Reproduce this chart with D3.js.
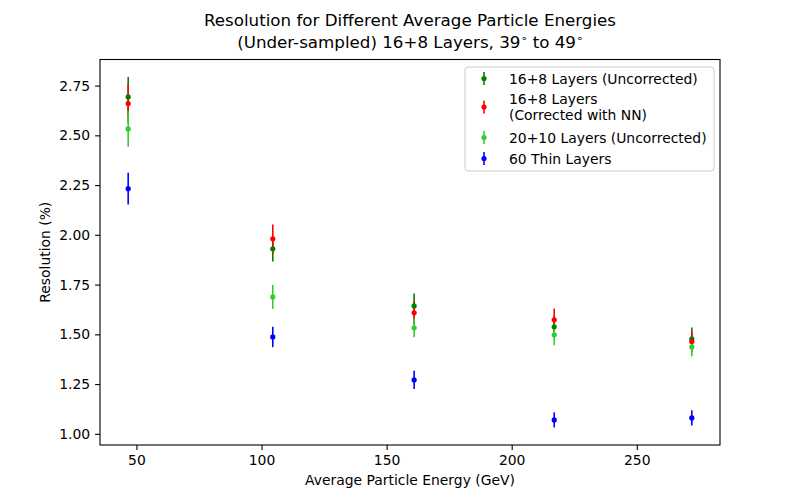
<!DOCTYPE html>
<html>
<head>
<meta charset="utf-8">
<script src="https://cdn.jsdelivr.net/npm/d3@7"></script>
<style>
  body { margin: 0; background: #fff; }
  text { font-family: 'DejaVu Sans', sans-serif; fill: #000; }
</style>
</head>
<body>
<div id="chart"></div>
<script>
'use strict';

const energies = [46.7, 104.5, 161.0, 217.0, 272.0];

const uncorrected16 = [2.693, 1.930, 1.643, 1.538, 1.477];
const uncorrected16Err = [0.100, 0.064, 0.062, 0.055, 0.057];

const corrected16 = [2.660, 1.980, 1.608, 1.573, 1.464];
const corrected16Err = [0.095, 0.072, 0.060, 0.057, 0.052];

const uncorrected20 = [2.532, 1.688, 1.533, 1.498, 1.437];
const uncorrected20Err = [0.090, 0.060, 0.047, 0.053, 0.047];

const thin60 = [2.232, 1.487, 1.271, 1.070, 1.080];
const thin60Err = [0.080, 0.051, 0.046, 0.038, 0.038];

const seriesNames = [
  ['16+8 Layers (Uncorrected)'],
  ['16+8 Layers', '(Corrected with NN)'],
  ['20+10 Layers (Uncorrected)'],
  ['60 Thin Layers'],
];
const seriesColors = ['green', 'red', 'limegreen', 'blue'];
const yTicks = [1.00, 1.25, 1.50, 1.75, 2.00, 2.25, 2.50, 2.75];
const xTicks = [50, 100, 150, 200, 250];

const series = [
  [uncorrected16, uncorrected16Err],
  [corrected16, corrected16Err],
  [uncorrected20, uncorrected20Err],
  [thin60, thin60Err],
].map(([vals, errs], i) => ({
  name: seriesNames[i],
  color: seriesColors[i],
  points: vals.map((v, j) => ({ x: energies[j], y: v, e: errs[j] })),
}));

const width = 800;
const height = 500;
const margin = { top: 59.5, right: 80, bottom: 55, left: 100 };

// matplotlib style 5% padding around the data
const pad = (lo, hi) => [lo - (hi - lo) * 0.05, hi + (hi - lo) * 0.05];
const allPts = series.flatMap((s) => s.points);
const xDomain = pad(d3.min(energies), d3.max(energies));
const yDomain = pad(d3.min(allPts, (p) => p.y - p.e), d3.max(allPts, (p) => p.y + p.e));

const x = d3.scaleLinear(xDomain, [margin.left, width - margin.right]);
const y = d3.scaleLinear(yDomain, [height - margin.bottom, margin.top]);

const svg = d3.select('#chart')
  .append('svg')
  .attr('width', width)
  .attr('height', height)
  .attr('viewBox', [0, 0, width, height]);

// error bars first, then markers (like matplotlib's zorder)
svg.append('g')
  .selectAll('g')
  .data(series)
  .join('g')
  .attr('stroke', (d) => d.color)
  .attr('stroke-width', 1.6)
  .selectAll('line')
  .data((d) => d.points)
  .join('line')
  .attr('x1', (d) => x(d.x))
  .attr('x2', (d) => x(d.x))
  .attr('y1', (d) => y(d.y - d.e))
  .attr('y2', (d) => y(d.y + d.e));

svg.append('g')
  .selectAll('g')
  .data(series)
  .join('g')
  .attr('fill', (d) => d.color)
  .selectAll('circle')
  .data((d) => d.points)
  .join('circle')
  .attr('cx', (d) => x(d.x))
  .attr('cy', (d) => y(d.y))
  .attr('r', 2.6);

const xAxis = d3.axisBottom(x)
  .tickValues(xTicks)
  .tickSize(4.9)
  .tickPadding(4.9)
  .tickFormat(d3.format('d'));

const yAxis = d3.axisLeft(y)
  .tickValues(yTicks)
  .tickSize(4.9)
  .tickPadding(4.9)
  .tickFormat(d3.format('.2f'));

svg.append('g')
  .attr('transform', `translate(0, ${height - margin.bottom})`)
  .call(xAxis)
  .call((g) => g.select('.domain').remove())
  .call((g) => g.selectAll('text').style('font-size', '13.9px').attr('fill', '#000'));

svg.append('g')
  .attr('transform', `translate(${margin.left}, 0)`)
  .call(yAxis)
  .call((g) => g.select('.domain').remove())
  .call((g) => g.selectAll('text').style('font-size', '13.9px').attr('fill', '#000'));

svg.selectAll('.tick line').attr('stroke', '#000').attr('stroke-width', 1.1);

svg.append('rect')
  .attr('x', margin.left)
  .attr('y', margin.top)
  .attr('width', width - margin.left - margin.right)
  .attr('height', height - margin.top - margin.bottom)
  .attr('fill', 'none')
  .attr('stroke', '#000')
  .attr('stroke-width', 1.1);

const cx = (margin.left + width - margin.right) / 2;

// title
const title = svg.append('text')
  .attr('text-anchor', 'middle')
  .style('font-size', '16.7px');
title.append('tspan').attr('x', cx).attr('y', 26).text('Resolution for Different Average Particle Energies');
const line2 = title.append('tspan').attr('x', cx).attr('y', 48);
line2.append('tspan').text('(Under-sampled) 16+8 Layers, 39');
line2.append('tspan').attr('dy', -6).style('font-size', '11px').text('∘');
line2.append('tspan').attr('dy', 6).text(' to 49');
line2.append('tspan').attr('dy', -6).style('font-size', '11px').text('∘');

svg.append('text')
  .attr('x', cx)
  .attr('y', 485)
  .attr('text-anchor', 'middle')
  .style('font-size', '13.9px')
  .text('Average Particle Energy (GeV)');

svg.append('text')
  .attr('transform', `translate(50, ${(margin.top + height - margin.bottom) / 2}) rotate(-90)`)
  .attr('text-anchor', 'middle')
  .style('font-size', '13.9px')
  .text('Resolution (%)');

// legend
const legendRows = [78.5, 107, 137.5, 158.5];
const legend = svg.append('g');

legend.append('rect')
  .attr('x', 465)
  .attr('y', 67)
  .attr('width', 249)
  .attr('height', 104)
  .attr('rx', 3)
  .attr('fill', '#fff')
  .attr('fill-opacity', 0.8)
  .attr('stroke', '#ccc');

const entries = legend.selectAll('g.entry')
  .data(series)
  .join('g')
  .attr('class', 'entry')
  .attr('transform', (d, i) => `translate(0, ${legendRows[i]})`);

entries.append('line')
  .attr('x1', 484)
  .attr('x2', 484)
  .attr('y1', -6.5)
  .attr('y2', 6.5)
  .attr('stroke', (d) => d.color)
  .attr('stroke-width', 1.6);

entries.append('circle')
  .attr('cx', 484)
  .attr('cy', 0)
  .attr('r', 2.6)
  .attr('fill', (d) => d.color);

entries.append('text')
  .style('font-size', '13.9px')
  .each(function (d) {
    const t = d3.select(this);
    const n = d.name.length;
    d.name.forEach((line, k) => {
      t.append('tspan')
        .attr('x', 509)
        .attr('y', (k - (n - 1) / 2) * 16 + 5)
        .text(line);
    });
  });
</script>
</body>
</html>
